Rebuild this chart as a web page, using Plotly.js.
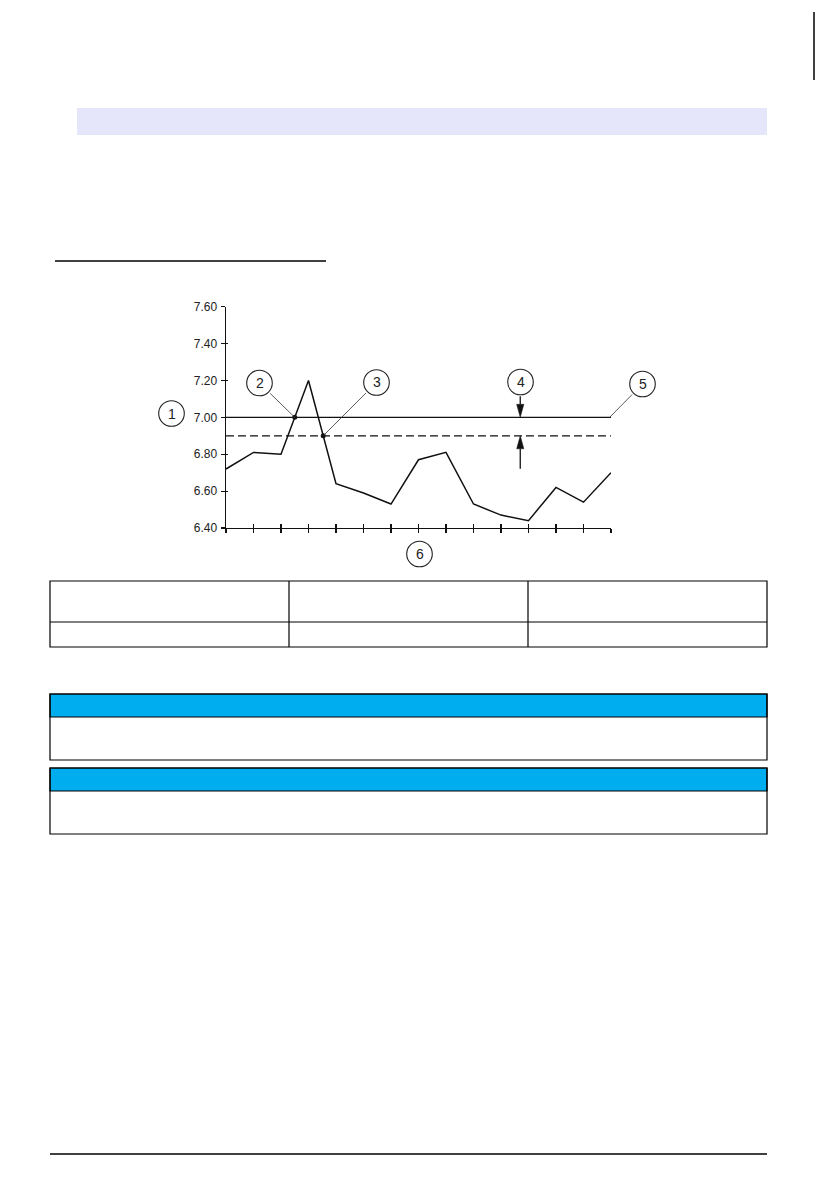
<!DOCTYPE html>
<html>
<head>
<meta charset="utf-8">
<script src="https://cdn.plot.ly/plotly-3.0.1.min.js"></script>
<style>html,body{margin:0;padding:0;background:#fff;}#chart{width:839px;height:1191px;}</style>
</head>
<body>
<div id="chart"></div>
<script>
// ---- data ----
var samples = [0,1,2,3,4,5,6,7,8,9,10,11,12,13,14];
var phValues = [6.72,6.81,6.80,7.20,6.64,6.59,6.53,6.77,6.81,6.53,6.47,6.44,6.62,6.54,6.70];
var targetValue = [7.00];
var warningValue = [6.90];
var yTickVals = [6.40,6.60,6.80,7.00,7.20,7.40,7.60];
var yTickText = ["6.40","6.60","6.80","7.00","7.20","7.40","7.60"];
var calloutLabels = ["1","2","3","4","5","6"];
var arrowSample = [10.7];

// ---- layout geometry (page pixels) ----
var W = 839, H = 1191;
var plotLeft = 226, plotRight = 611, plotTop = 306.7, plotBottom = 528;
var xMin = samples[0], xMax = samples[samples.length-1];
var yMin = 6.40, yMax = 7.60;
function px(x){ return x / W; }
function py(y){ return 1 - y / H; }
function dataToPx(x){ return plotLeft + (x - xMin) / (xMax - xMin) * (plotRight - plotLeft); }
function dataToPy(y){ return plotBottom - (y - yMin) / (yMax - yMin) * (plotBottom - plotTop); }
var pxPerX = (plotRight - plotLeft) / (xMax - xMin);
var pxPerY = (plotBottom - plotTop) / (yMax - yMin);

// crossings computed from the series
function crossing(level, falling){
  for (var i = 0; i < phValues.length - 1; i++){
    var a = phValues[i], b = phValues[i+1];
    if (!falling && a < level && b >= level) return [samples[i] + (level - a)/(b - a), level];
    if (falling && a > level && b <= level) return [samples[i] + (a - level)/(a - b), level];
  }
  return null;
}
var crossTarget = crossing(targetValue[0], false);
var crossWarning = crossing(warningValue[0], true);

var black = '#111';
var traces = [
  {x:[xMin, xMax], y:[targetValue[0], targetValue[0]], mode:'lines', line:{color:black, width:1.4}, hoverinfo:'skip', showlegend:false},
  {x:[xMin, xMax], y:[warningValue[0], warningValue[0]], mode:'lines', line:{color:black, width:1.3, dash:'8px,4px'}, hoverinfo:'skip', showlegend:false},
  {x:samples, y:phValues, mode:'lines', line:{color:black, width:1.5}, hoverinfo:'skip', showlegend:false},
  {x:[crossTarget[0], crossWarning[0]], y:[crossTarget[1], crossWarning[1]], mode:'markers', marker:{color:black, size:5}, hoverinfo:'skip', showlegend:false},
  {x:[xMin], y:[yMin], xaxis:'x2', yaxis:'y2', mode:'lines', line:{width:0}, hoverinfo:'skip', showlegend:false}
];

// callout circles (page pixels)
var callouts = [
  {cx:171.5, cy:413.5}, {cx:259.5, cy:383}, {cx:376.5, cy:382.5},
  {cx:520.5, cy:382}, {cx:642.5, cy:384}, {cx:419.5, cy:554}
];
var R = 12.8;

var shapes = [];
var annotations = [];
var lineCol = '#000';
function pline(x0,y0,x1,y1,w){ shapes.push({type:'line', xref:'paper', yref:'paper', x0:px(x0), y0:py(y0), x1:px(x1), y1:py(y1), line:{color:lineCol, width:w||1}}); }
function prect(x0,y0,x1,y1,fill,lw){ shapes.push({type:'rect', xref:'paper', yref:'paper', x0:px(x0), y0:py(y0), x1:px(x1), y1:py(y1), fillcolor:fill||'rgba(0,0,0,0)', line:{color:lineCol, width:lw===undefined?1:lw}}); }

// page decorations
prect(77,108,767,135,'#E6E6FA',0);
pline(55,261,326,261,1.5);
pline(814,12,814,80,1.5);
prect(50,581,767,647,null,1.2);
pline(50,622,767,622,1.2);
pline(289,581,289,647,1.2);
pline(528,581,528,647,1.2);
prect(50,694,767,717,'#00ADEE',1.2);
prect(50,694,767,760,null,1.2);
prect(50,768,767,791,'#00ADEE',1.2);
prect(50,768,767,834,null,1.2);
pline(50,1154,767,1154,1.3);

// circles + numbers
callouts.forEach(function(c, i){
  shapes.push({type:'circle', xref:'paper', yref:'paper', x0:px(c.cx-R), x1:px(c.cx+R), y0:py(c.cy+R), y1:py(c.cy-R), line:{color:'#222', width:1.1}});
  annotations.push({xref:'paper', yref:'paper', x:px(c.cx), y:py(c.cy), text:calloutLabels[i], showarrow:false, xanchor:'center', yanchor:'middle', font:{family:'Liberation Sans, Arial, sans-serif', size:14, color:'#222'}});
});

// leader lines from circles 2,3,5 to points on the chart
function leader(ci, dx, dy){
  var c = callouts[ci];
  var ppx = dataToPx(dx), ppy = dataToPy(dy);
  var vx = ppx - c.cx, vy = ppy - c.cy, len = Math.sqrt(vx*vx + vy*vy);
  var ex = c.cx + R*vx/len, ey = c.cy + R*vy/len;
  annotations.push({x:dx, y:dy, xref:'x', yref:'y', text:'', showarrow:true, arrowhead:0, arrowwidth:0.8, arrowcolor:'#333', ax:ex-ppx, ay:ey-ppy, standoff:0});
}
leader(1, crossTarget[0], crossTarget[1]);
leader(2, crossWarning[0], crossWarning[1]);
leader(4, xMax - 0.05, targetValue[0]);

// tolerance arrows (item 4)
var ax = arrowSample[0];
var headLen = 13 / pxPerY, headHalf = 3.6 / pxPerX;
function arrow(tipY, tailY){
  var dir = tailY > tipY ? 1 : -1;
  var baseY = tipY + dir*headLen;
  shapes.push({type:'line', xref:'x', yref:'y', x0:ax, x1:ax, y0:tailY, y1:baseY, line:{color:black, width:1.3}});
  shapes.push({type:'path', xref:'x', yref:'y', path:'M'+ax+','+tipY+' L'+(ax-headHalf)+','+baseY+' L'+(ax+headHalf)+','+baseY+' Z', fillcolor:black, line:{color:black, width:0.5}});
}
arrow(targetValue[0], targetValue[0] + 21/pxPerY);
arrow(warningValue[0], warningValue[0] - 33/pxPerY);

var tickFont = {family:'Liberation Sans, Arial, sans-serif', size:12, color:'#222'};
var layout = {
  width:W, height:H, margin:{l:0,r:0,t:0,b:0}, paper_bgcolor:'#fff', plot_bgcolor:'rgba(0,0,0,0)',
  showlegend:false,
  xaxis:{domain:[px(plotLeft), px(plotRight)], range:[xMin, xMax], tickvals:samples, showticklabels:false, ticks:'outside', ticklen:4, tickwidth:1.2, tickcolor:black, showline:true, linecolor:black, linewidth:1.4, showgrid:false, zeroline:false, anchor:'y', fixedrange:true},
  yaxis:{domain:[py(plotBottom), py(plotTop)], range:[yMin, yMax], tickvals:yTickVals, ticktext:yTickText, tickfont:tickFont, ticks:'outside', ticklen:4, tickwidth:1.2, tickcolor:black, showline:true, linecolor:black, linewidth:1.4, showgrid:false, zeroline:false, anchor:'x', ticklabelstandoff:1, fixedrange:true},
  xaxis2:{overlaying:'x', domain:[px(plotLeft), px(plotRight)], range:[xMin, xMax], tickvals:samples, showticklabels:false, ticks:'inside', ticklen:4, tickwidth:1.2, tickcolor:black, showline:false, showgrid:false, zeroline:false, anchor:'y2', fixedrange:true},
  yaxis2:{overlaying:'y', domain:[py(plotBottom), py(plotTop)], range:[yMin, yMax], tickvals:yTickVals, showticklabels:false, ticks:'inside', ticklen:2, tickwidth:1.2, tickcolor:black, showline:false, showgrid:false, zeroline:false, anchor:'x2', fixedrange:true},
  shapes:shapes,
  annotations:annotations
};
Plotly.newPlot('chart', traces, layout, {displayModeBar:false, staticPlot:true});
</script>
</body>
</html>
